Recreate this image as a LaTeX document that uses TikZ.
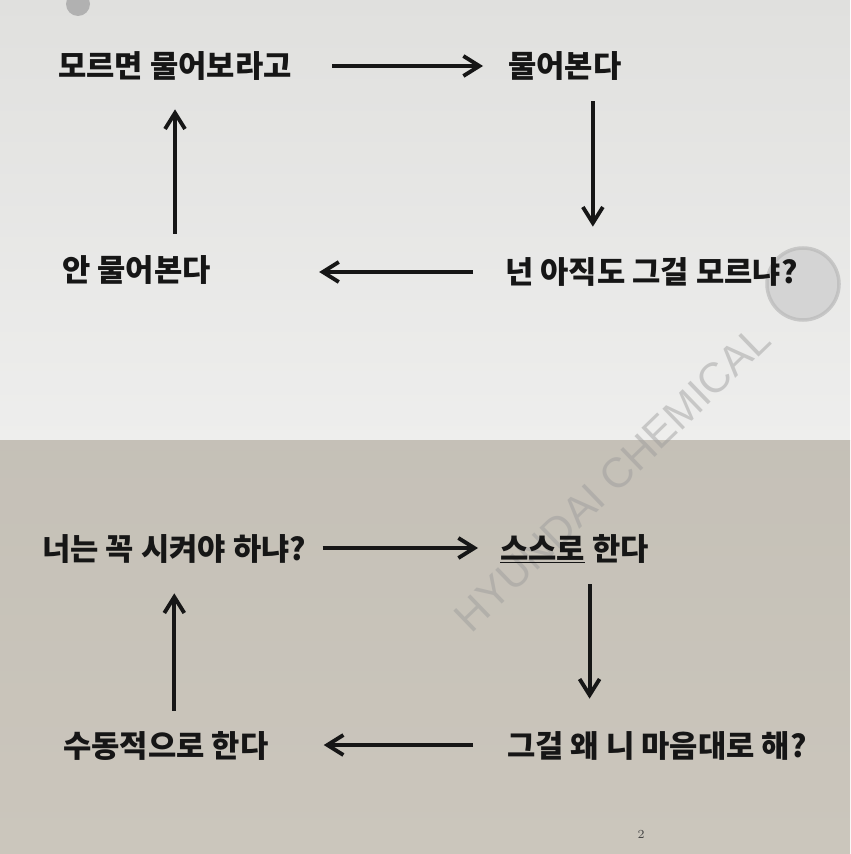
\documentclass[tikz,border=0pt]{standalone}
\usepackage{fontspec}
\newfontfamily\kr{Noto Sans CJK KR}
\setsansfont{Liberation Sans}
\usepackage{tikz}
\usetikzlibrary{arrows.meta,calc}
\definecolor{paperup}{RGB}{224,224,222}
\definecolor{paperlow}{RGB}{203,198,188}
\definecolor{ink}{RGB}{22,22,22}

\begin{document}
\begin{tikzpicture}[x=0.02cm,y=-0.02cm,
  say/.style={anchor=west,inner sep=0pt,text height=0.54cm,text depth=0.06cm,text=ink,font=\kr\bfseries\fontsize{17.5}{20}\selectfont},
  flow/.style={draw=ink,line width=2.2pt,-{Straight Barb[length=0.32cm,width=0.4cm]}}]
\useasboundingbox (0,0) rectangle (850,854);
\shade[top color=paperup,bottom color=paperup!55!white] (0,0) rectangle (850,440);
\shade[top color=paperlow!92!gray,bottom color=paperlow] (0,440) rectangle (850,854);
\fill[gray!70,opacity=.8] (78,4) circle (12);
\fill[gray!40,draw=gray!55,line width=2pt,opacity=.7] (803,284) circle (36);
\node[rotate=44,text=gray!80,opacity=.45,font=\sffamily\fontsize{24}{26}\selectfont] (mark) at (612,478) {HYUNDAI CHEMICAL};

\node[say] (ask) at (58,66) {모르면 물어보라고};
\node[say] (asked) at (508,66) {물어본다};
\node[say] (nag) at (505,272) {넌 아직도 그걸 모르냐?};
\node[say] (dont) at (62,270) {안 물어본다};
\draw[flow,shorten <=0.8cm,shorten >=0.5cm] (ask.east) -- (asked.west);
\draw[flow,shorten <=0.4cm,shorten >=0.6cm] ([xshift=-0.58cm]asked.south east) -- ([xshift=-0.58cm]asked.south east |- nag.north);
\draw[flow,shorten <=0.64cm,shorten >=2.16cm] (nag.west) -- (nag.west -| dont.east);
\draw[flow,shorten <=0.42cm,shorten >=0.56cm] (dont.north -| ask.south) -- (ask.south);

\node[say] (order) at (42,548) {너는 꼭 시켜야 하냐?};
\node[say] (self) at (500,548) {\underline{스스로} 한다};
\node[say] (rebuke) at (507,745) {그걸 왜 니 마음대로 해?};
\node[say] (passive) at (63,745) {수동적으로 한다};
\draw[flow,shorten <=0.32cm,shorten >=0.44cm] (order.east) -- (self.west);
\draw[flow,shorten <=0.42cm,shorten >=0.62cm] ([xshift=0.3cm]self.south) -- ([xshift=0.3cm]self.south |- rebuke.north);
\draw[flow,shorten <=0.68cm,shorten >=1.1cm] (rebuke.west) -- (rebuke.west -| passive.east);
\draw[flow,shorten <=0.38cm,shorten >=0.6cm] (passive.north -| order.south) -- (order.south);

\node[text=ink!80,font=\fontsize{7}{8}\selectfont] (page) at (641,834) {2};
\end{tikzpicture}
\end{document}
